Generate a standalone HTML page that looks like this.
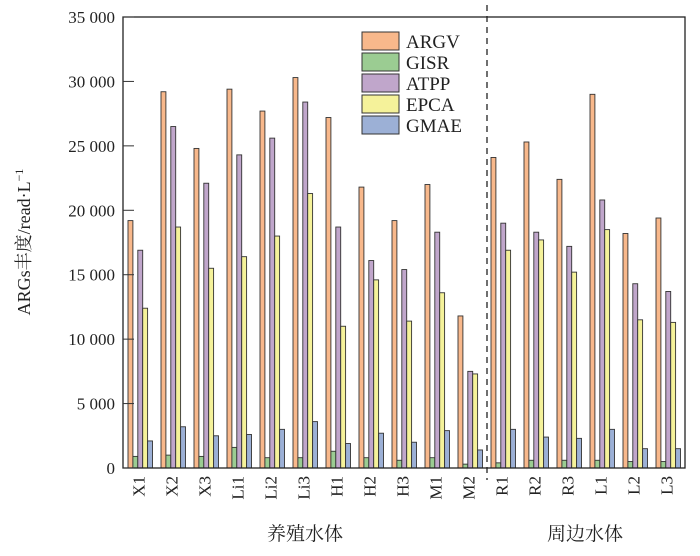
<!DOCTYPE html>
<html><head><meta charset="utf-8"><style>
body{margin:0;background:#fff;}
text{font-family:"Liberation Serif","Noto Serif CJK SC",serif;fill:#222;}
</style></head><body>
<svg id="c" width="700" height="551" xmlns="http://www.w3.org/2000/svg"></svg>
<script>
const categories=["X1","X2","X3","Li1","Li2","Li3","H1","H2","H3","M1","M2","R1","R2","R3","L1","L2","L3"];
const seriesNames=["ARGV","GISR","ATPP","EPCA","GMAE"];
const argv=[19200,29200,24800,29400,27700,30300,27200,21800,19200,22000,11800,24100,25300,22400,29000,18200,19400];
const gisr=[900,1000,900,1600,800,800,1300,800,600,800,300,400,600,600,600,500,500];
const atpp=[16900,26500,22100,24300,25600,28400,18700,16100,15400,18300,7500,19000,18300,17200,20800,14300,13700];
const epca=[12400,18700,15500,16400,18000,21300,11000,14600,11400,13600,7300,16900,17700,15200,18500,11500,11300];
const gmae=[2100,3200,2500,2600,3000,3600,1900,2700,2000,2900,1400,3000,2400,2300,3000,1500,1500];
const yTicks=[0,5000,10000,15000,20000,25000,30000,35000];
const yTickLabels=["0","5 000","10 000","15 000","20 000","25 000","30 000","35 000"];
const series=[argv,gisr,atpp,epca,gmae];
const colors=["#f8b88b","#9bcc92","#c0a6cb","#f5f29a","#9cb0d6"];
const svg=document.getElementById('c');
const NS="http://www.w3.org/2000/svg";
const L=123,R=685,T=17,B=468,YMAX=35000;
const y=v=>B-(v/YMAX)*(B-T);
const period=33,bw=4.9,x0=128;
const gx=i=>x0+i*period;
function mk(tag,attrs,txt){const e=document.createElementNS(NS,tag);for(const k in attrs)e.setAttribute(k,attrs[k]);if(txt!==undefined)e.textContent=txt;svg.appendChild(e);return e;}
// bars
series.forEach((s,si)=>{s.forEach((v,i)=>{
 const r=mk('rect',{x:gx(i)+si*bw,y:y(v),width:bw,height:B-y(v),fill:colors[si],stroke:'#333','stroke-width':0.9});
 
 
});});
// frame
const f=mk('rect',{x:L,y:T,width:R-L,height:B-T,fill:'none',stroke:'#222','stroke-width':1.3});


// dashed divider
const d=mk('line',{x1:487,y1:5,x2:487,y2:480,stroke:'#222','stroke-width':1.3,'stroke-dasharray':'6,5'});


// y ticks
yTicks.forEach((t,i)=>{
 const ln=mk('line',{x1:L,x2:L+11,y1:y(t),y2:y(t),stroke:'#333','stroke-width':1});
 
 
 const tx=mk('text',{x:L-8,y:y(t)+6,'text-anchor':'end','font-size':17},yTickLabels[i]);
 
 
});
// x labels
categories.forEach((c,i)=>{
 const cx=gx(i)+2.5*bw+4;
 const tx=mk('text',{x:cx,y:476,'text-anchor':'end','font-size':17,transform:`rotate(-90 ${cx} 476)`},c);
 
 
});
const g1=mk('text',{x:305,y:540,'text-anchor':'middle','font-size':19},'养殖水体');


const g2=mk('text',{x:585,y:540,'text-anchor':'middle','font-size':19},'周边水体');


const yt=mk('text',{x:30,y:242,'text-anchor':'middle','font-size':18,transform:'rotate(-90 30 242)'});


yt.innerHTML='ARGs丰度/read·L<tspan dy="-7" font-size="12">−1</tspan>';
// legend
seriesNames.forEach((n,i)=>{
 const ly=32+i*21;
 const r=mk('rect',{x:362,y:ly,width:37,height:18,fill:colors[i],stroke:'#333','stroke-width':1});
 
 
 const t=mk('text',{x:406,y:ly+16,'font-size':19},n);
 
 
});
</script>
</body></html>
